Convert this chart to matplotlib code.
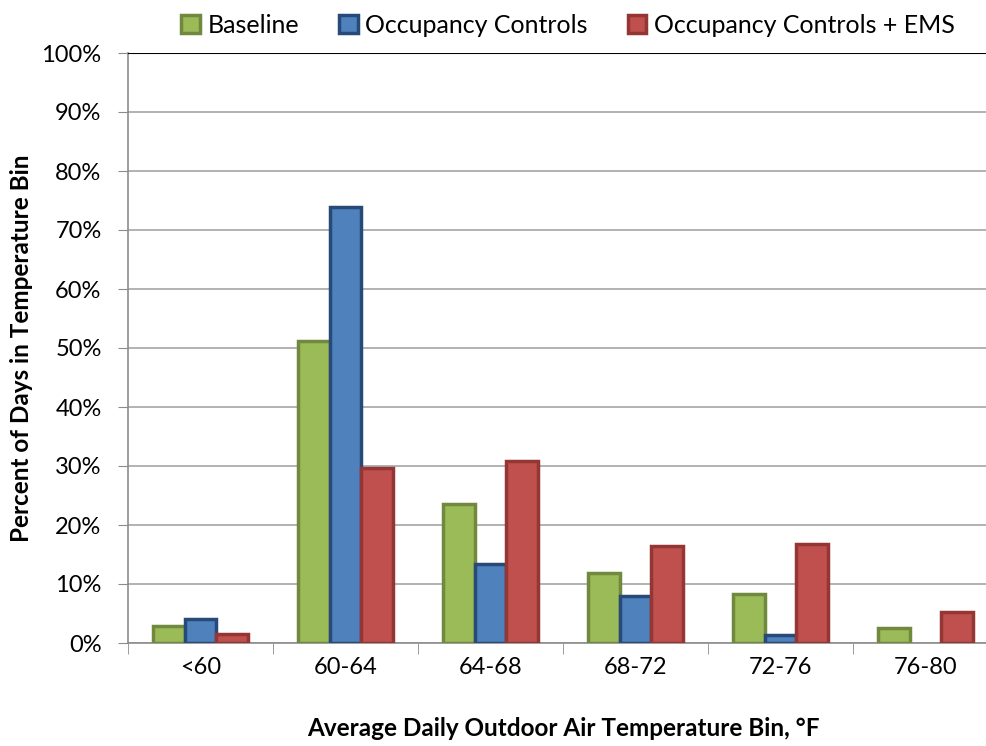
import numpy as np
import matplotlib
matplotlib.use('Agg')
import matplotlib.pyplot as plt
from matplotlib.ticker import FixedLocator

plt.rcParams['font.family'] = ['Lato', 'DejaVu Sans']

bins = ['<60', '60-64', '64-68', '68-72', '72-76', '76-80']
baseline = [2.8, 51.2, 23.5, 11.8, 8.3, 2.6]
occupancy = [4.0, 73.9, 13.4, 8.0, 1.3, 0.0]
occupancy_ems = [1.5, 29.7, 30.9, 16.4, 16.7, 5.2]
series_names = ['Baseline', 'Occupancy Controls', 'Occupancy Controls + EMS']

faces = ['#9BBB59', '#4F81BD', '#C0504D']
edges = ['#71893F', '#274A78', '#943634']

fig = plt.figure(figsize=(9.86, 7.46), dpi=100)
# plot area runs past the right edge, like the cropped original
ax = fig.add_axes([128/986, 1 - 643/746, 870/986, 590/746])

x = np.arange(len(bins))
w = 0.22
for i, vals in enumerate([baseline, occupancy, occupancy_ems]):
    h = np.array(vals, dtype=float)
    h[h == 0] = np.nan  # no outline for empty bins
    ax.bar(x + (i - 1) * w, h, w, color=faces[i], edgecolor=edges[i],
           linewidth=2.5, label=series_names[i], zorder=3)

ax.set_xlim(-0.5, len(bins) - 0.5)
ax.set_ylim(0, 100)
ax.set_yticks(np.arange(0, 101, 10))
ax.set_yticklabels([f'{v}%' for v in range(0, 101, 10)], fontsize=17)
ax.yaxis.grid(True, color='#A6A6A6', linewidth=1.2, zorder=0)
ax.axhline(100, color='black', linewidth=1.5, zorder=4)

ax.set_xticks(x)
ax.set_xticklabels(bins, fontsize=17)
ax.tick_params(axis='x', which='major', length=0, pad=10)
ax.xaxis.set_minor_locator(FixedLocator(np.arange(-0.5, len(bins), 1.0)))
ax.tick_params(axis='x', which='minor', length=8, color='#8C8C8C')
ax.tick_params(axis='y', length=7, color='#8C8C8C', pad=12)

for s in ['top', 'right']:
    ax.spines[s].set_visible(False)
ax.spines['left'].set_color('#8C8C8C')
ax.spines['bottom'].set_color('#8C8C8C')
ax.spines['left'].set_linewidth(1.2)
ax.spines['bottom'].set_linewidth(1.2)

ax.set_ylabel('Percent of Days in Temperature Bin', fontsize=17.5, fontweight='bold')
ax.set_xlabel('Average Daily Outdoor Air Temperature Bin, \u00b0F', fontsize=17.5,
              fontweight='bold')
ax.yaxis.set_label_coords(-0.109, 0.5)
ax.xaxis.set_label_coords(0.5, -0.125)

fig.legend(loc='upper center', bbox_to_anchor=(0.576, 1.012), ncol=3, frameon=False,
           fontsize=18, handlelength=0.75, handleheight=0.75, handletextpad=0.3,
           columnspacing=1.6)

fig.savefig('out.png', dpi=100)
